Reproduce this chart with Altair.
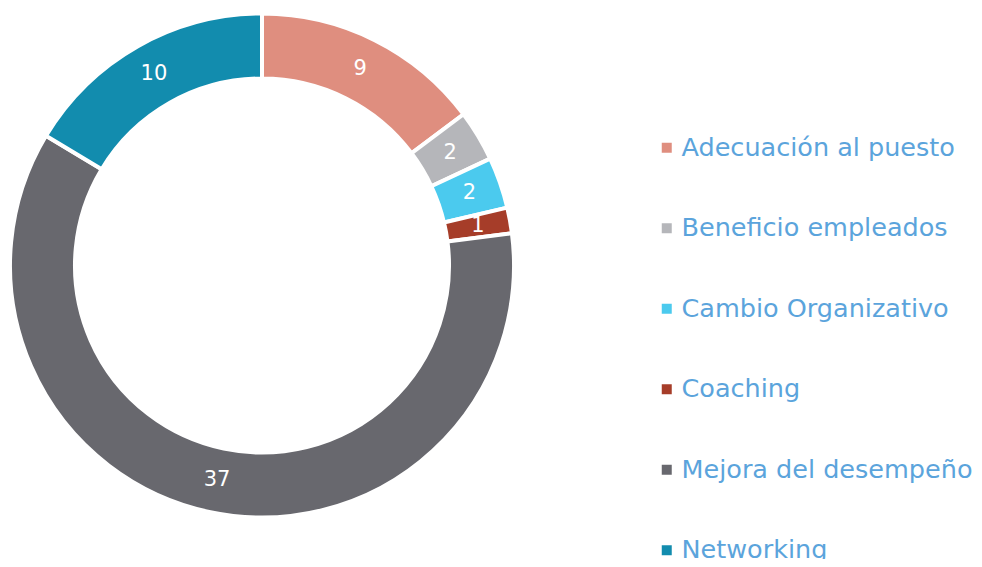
import altair as alt
import pandas as pd

categories = ["Adecuación al puesto", "Beneficio empleados", "Cambio Organizativo",
              "Coaching", "Mejora del desempeño", "Networking"]
values = [9, 2, 2, 1, 37, 10]
colors = ["#DF8E7F", "#B5B6BA", "#4BCAEE", "#A63D29", "#68686E", "#128CAE"]

df = pd.DataFrame({"cat": categories, "val": values, "ord": list(range(len(values)))})

CX, CY = 254, 257.5

base = alt.Chart(df).encode(
    theta=alt.Theta("val:Q", stack=True),
    order=alt.Order("ord:Q", sort="ascending"),
)

arcs = base.mark_arc(outerRadius=252, innerRadius=187, stroke="white", strokeWidth=4).encode(
    x=alt.value(CX), y=alt.value(CY),
    color=alt.Color("cat:N", sort=categories,
                    scale=alt.Scale(domain=categories, range=colors),
                    legend=alt.Legend(title=None, orient="none", legendX=646, legendY=127,
                                      symbolType="square", symbolSize=100, symbolStrokeWidth=0,
                                      labelFontSize=25.5, labelFont="DejaVu Sans",
                                      labelColor="#5BA4DC", labelOffset=2,
                                      rowPadding=53.5, labelLimit=400)),
)

labels = base.mark_text(radius=219.5, fontSize=21, font="DejaVu Sans", color="white").encode(
    x=alt.value(CX), y=alt.value(CY),
    text="val:Q",
)

chart = (arcs + labels).properties(
    width=966, height=551, padding=0,
    autosize=alt.AutoSizeParams(type="none"),
).configure_view(stroke=None)

chart.save("out.html", embed_options={"renderer": "svg", "actions": False})
